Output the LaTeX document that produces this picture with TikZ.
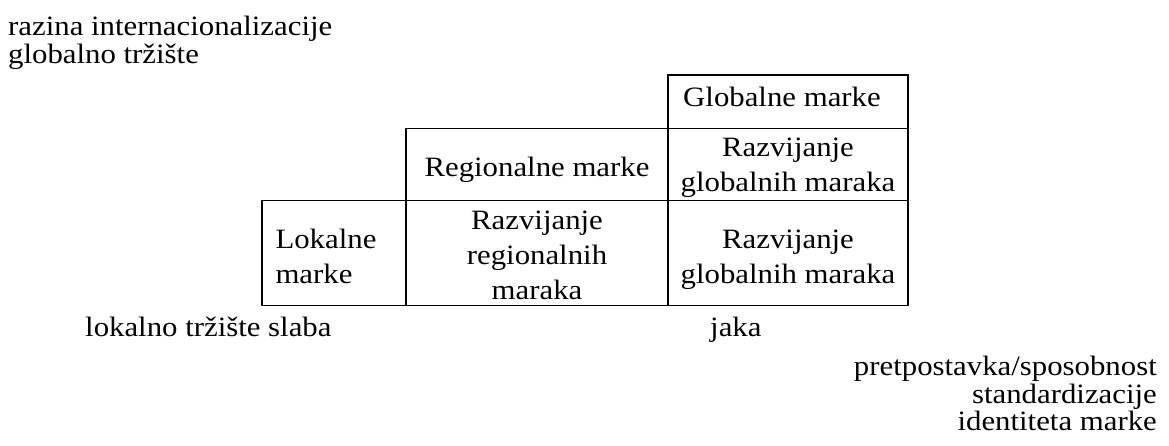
\documentclass[tikz,border=0pt]{standalone}
\usepackage{fontspec}
\setmainfont{Liberation Serif}[FakeStretch=1.1]
\begin{document}
\begin{tikzpicture}[x=1pt,y=-1pt,
  cellbox/.style={draw=black, line width=1.4pt, inner sep=0pt},
  celltext/.style={font=\fontsize{28}{35}\selectfont, inner sep=0pt, align=center},
  freetext/.style={font=\fontsize{28}{29}\selectfont, inner sep=0pt}]
\useasboundingbox (0,0) rectangle (1169,445);
% cells
\node[cellbox, minimum width=240, minimum height=53.5] (g) at (788,101.75) {};
\node[cellbox, minimum width=262, minimum height=72] (r) at (537,164.5) {};
\node[cellbox, minimum width=240, minimum height=72] (rg) at (788,164.5) {};
\node[cellbox, minimum width=144, minimum height=105] (l) at (334,253) {};
\node[cellbox, minimum width=262, minimum height=105] (rr) at (537,253) {};
\node[cellbox, minimum width=240, minimum height=105] (gg) at (788,253) {};
% cell texts (yshift is in canvas units: negative moves down)
\node[celltext, anchor=base west] (tg) at (683,106) {Globalne marke};
\node[celltext] (tr) at ([yshift=-5.7pt]r.center) {Regionalne marke};
\node[celltext] (trg) at ([yshift=-3.2pt]rg.center) {Razvijanje\\globalnih maraka};
\node[celltext, anchor=west, align=left] (tl) at ([xshift=14pt,yshift=-3.3pt]l.west) {Lokalne\\marke};
\node[celltext] (trr) at ([yshift=-2.5pt]rr.center) {Razvijanje\\regionalnih\\maraka};
\node[celltext] (tgg) at ([yshift=-6.5pt]gg.center) {Razvijanje\\globalnih maraka};
% free texts
\node[freetext, anchor=base west] (a1) at (8,35) {razina internacionalizacije};
\node[freetext, anchor=base west] (a2) at (8,63) {globalno tržište};
\node[freetext, anchor=base west] (b1) at (85,336) {lokalno tržište slaba};
\node[freetext, anchor=base west] (b2) at (710,336) {jaka};
\node[freetext, anchor=base east] (c1) at (1157,375) {pretpostavka/sposobnost};
\node[freetext, anchor=base east] (c2) at (1157,403) {standardizacije};
\node[freetext, anchor=base east] (c3) at (1157,430) {identiteta marke};
\end{tikzpicture}
\end{document}
